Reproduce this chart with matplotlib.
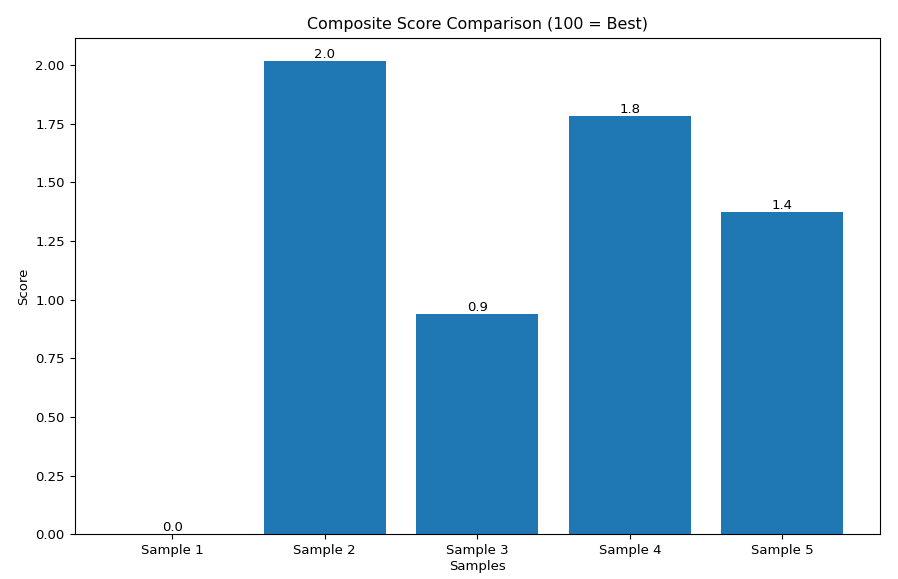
import matplotlib
matplotlib.use("Agg")
import matplotlib.pyplot as plt

samples = ["Sample 1", "Sample 2", "Sample 3", "Sample 4", "Sample 5"]
scores = [0.0, 2.016, 0.94, 1.783, 1.372]

plt.rcParams["font.size"] = 9.5
fig, ax = plt.subplots(figsize=(8.98, 5.79), dpi=100)
fig.subplots_adjust(left=0.083, right=0.98, top=0.935, bottom=0.077)
bars = ax.bar(samples, scores, color="#1f77b4")
for b in bars:
    h = b.get_height()
    ax.text(b.get_x() + b.get_width() / 2, h, f"{h:.1f}", ha="center", va="bottom")
ax.set_title("Composite Score Comparison (100 = Best)")
ax.set_xlabel("Samples", labelpad=2)
ax.set_ylabel("Score")
fig.savefig("out.png", dpi=100)
